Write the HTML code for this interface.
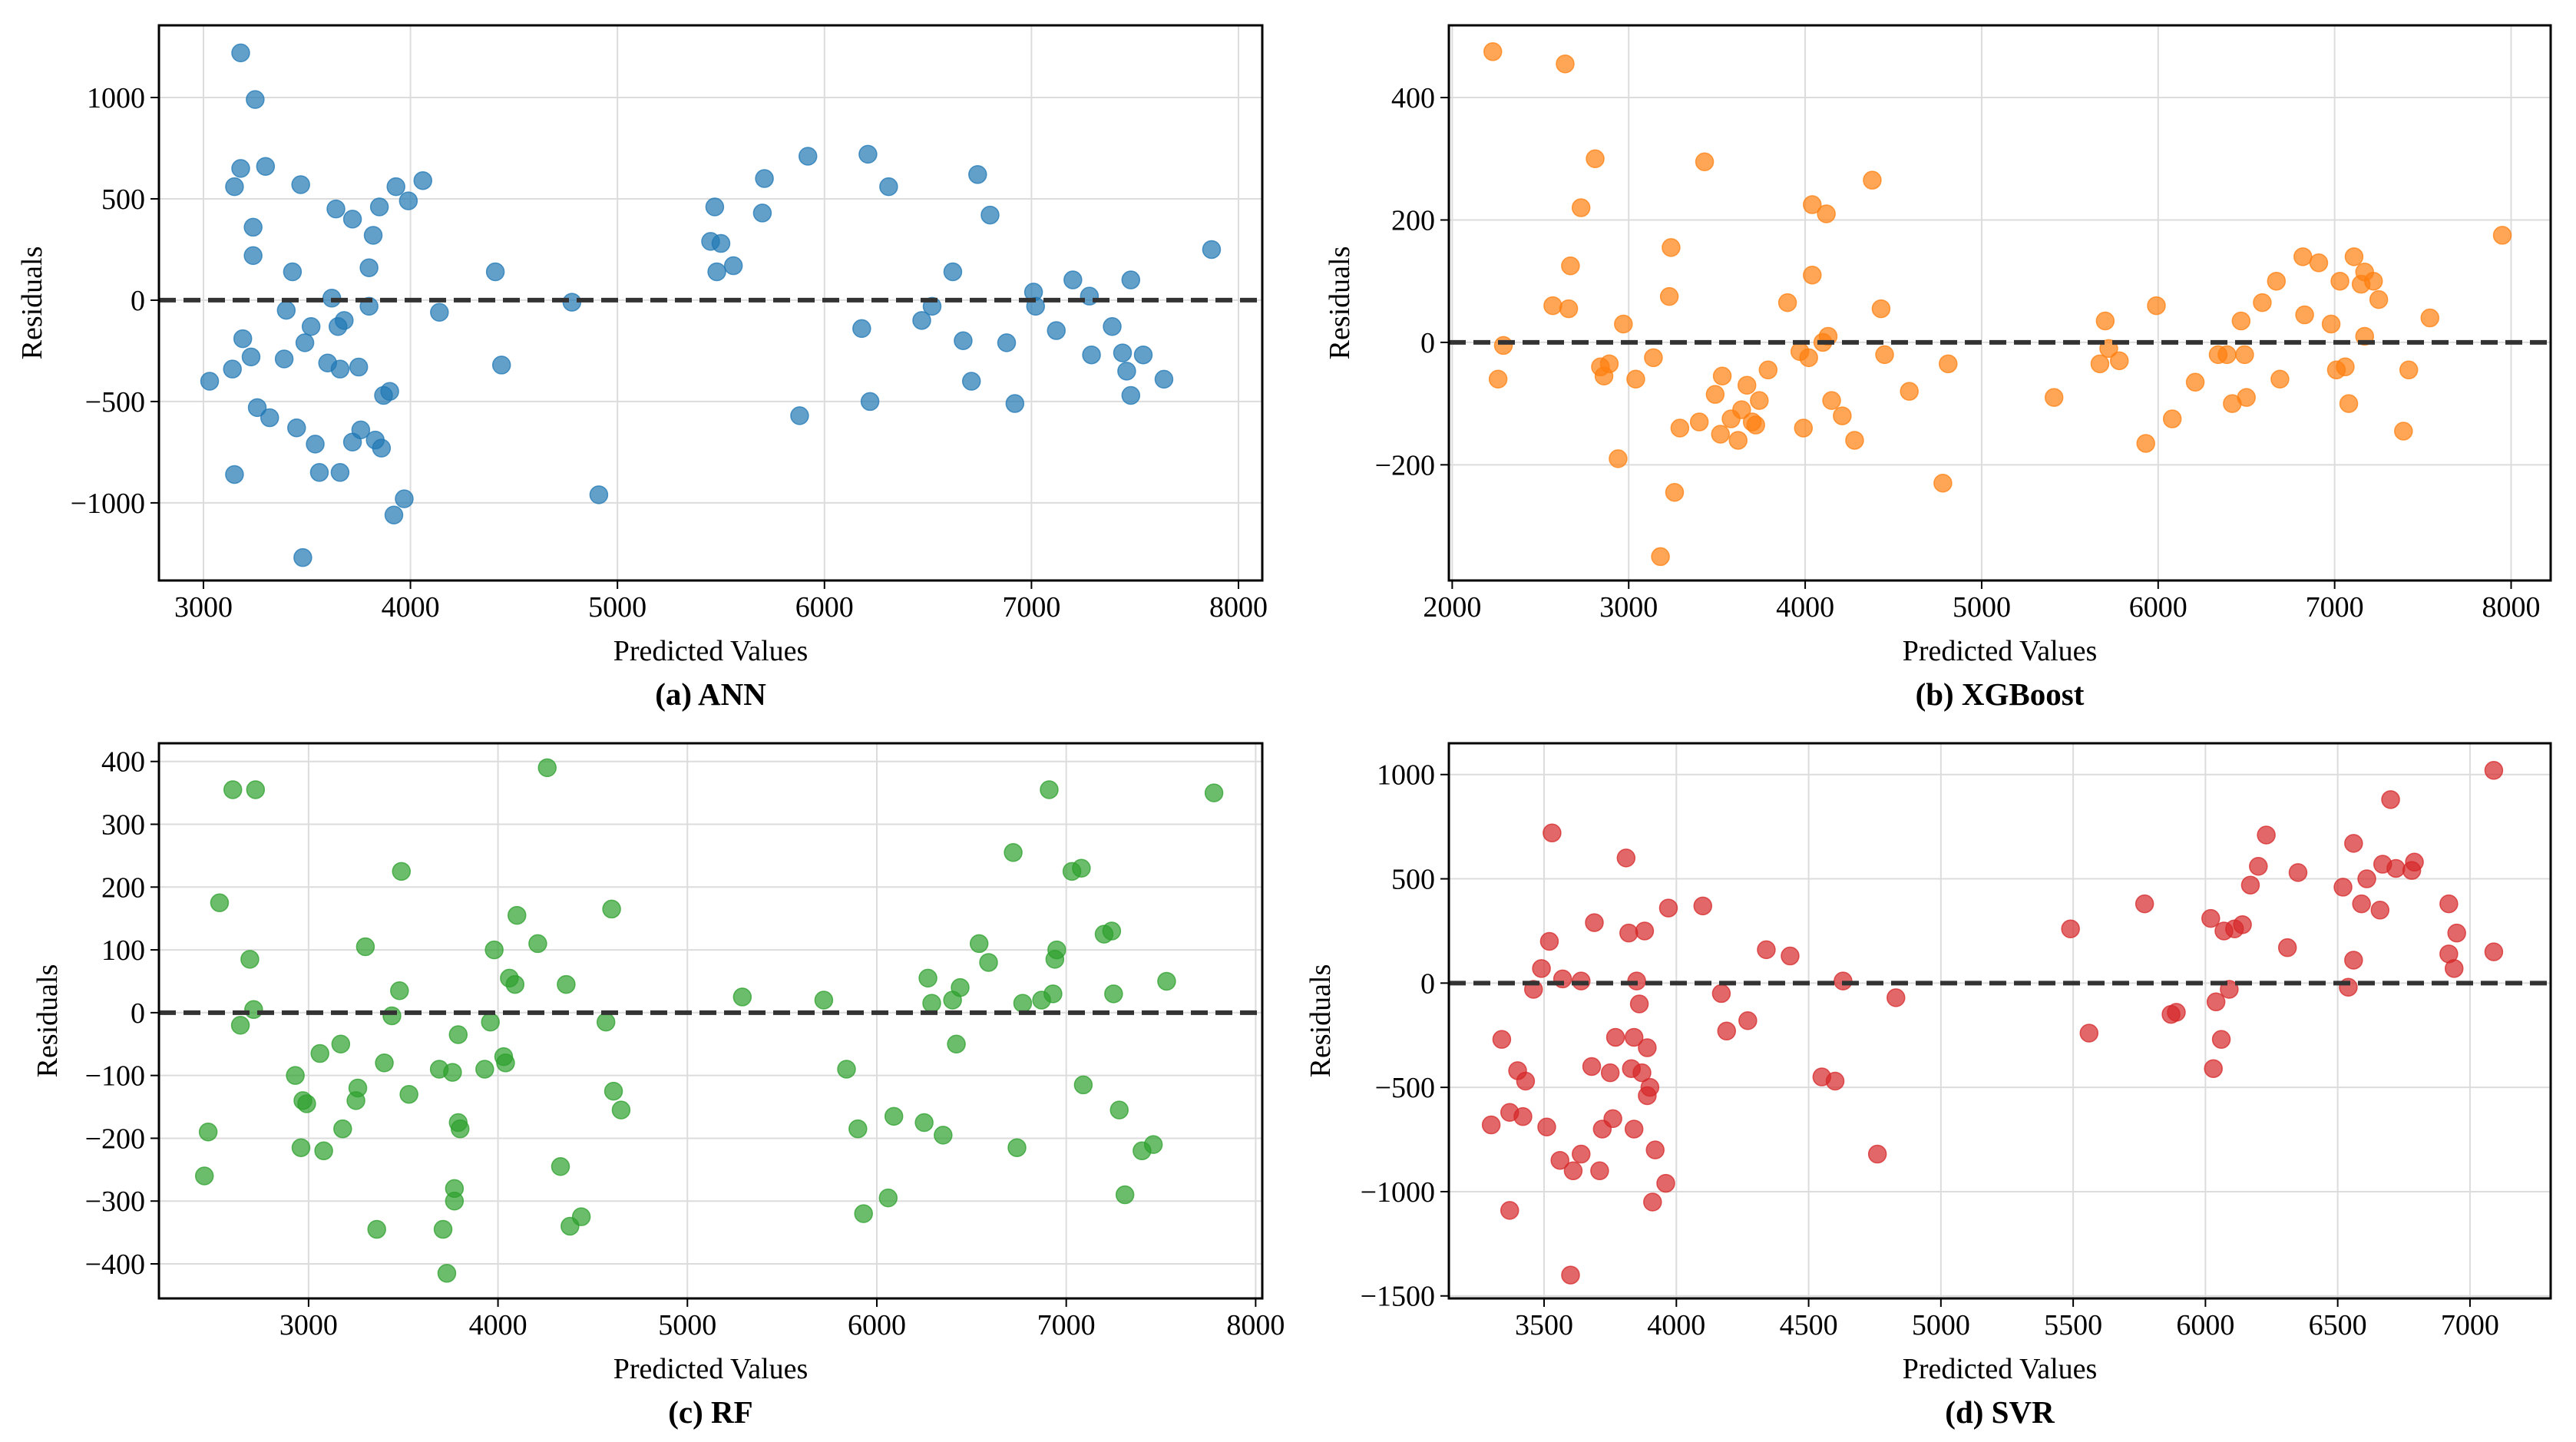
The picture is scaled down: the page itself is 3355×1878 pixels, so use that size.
<!DOCTYPE html>
<html><head><meta charset="utf-8"><style>
body{margin:0;background:#fff;}
svg{display:block;font-family:"Liberation Serif",serif;}
</style></head><body>
<svg id="fig" width="3355" height="1878" viewBox="0 0 3355 1878" xmlns="http://www.w3.org/2000/svg"></svg>
<script>
// ANN
const annX=[3030,3140,3150,3150,3180,3180,3190,3230,3240,3240,3250,3260,3300,3320,3390,3400,3430,3450,3470,3480,3490,3520,3540,3560,3600,3620,3640,3650,3660,3660,3680,3720,3720,3750,3760,3800,3800,3820,3830,3850,3860,3870,3900,3920,3930,3970,3990,4060,4140,4410,4440,4780,4910,5450,5470,5480,5500,5560,5700,5710,5880,5920,6180,6210,6220,6310,6470,6520,6620,6670,6710,6740,6800,6880,6920,7010,7020,7120,7200,7280,7290,7390,7440,7460,7480,7480,7540,7640,7870];
const annY=[-400,-340,-860,560,1220,650,-190,-280,360,220,990,-530,660,-580,-290,-50,140,-630,570,-1270,-210,-130,-710,-850,-310,10,450,-130,-850,-340,-100,400,-700,-330,-640,-30,160,320,-690,460,-730,-470,-450,-1060,560,-980,490,590,-60,140,-320,-10,-960,290,460,140,280,170,430,600,-570,710,-140,720,-500,560,-100,-30,140,-200,-400,620,420,-210,-510,40,-30,-150,100,20,-270,-130,-260,-350,100,-470,-270,-390,250];
// XGBoost
const xgbX=[2230,2260,2290,2570,2640,2660,2670,2730,2810,2840,2860,2890,2940,2970,3040,3140,3230,3240,3260,3290,3180,3400,3430,3490,3520,3530,3580,3620,3640,3670,3700,3720,3740,3790,3900,3970,3990,4020,4040,4040,4100,4120,4130,4150,4210,4280,4380,4430,4450,4590,4780,4810,5410,5670,5700,5720,5780,5930,5990,6080,6210,6340,6390,6420,6470,6490,6500,6590,6670,6690,6820,6830,6910,6980,7010,7030,7060,7080,7110,7150,7170,7170,7220,7250,7390,7420,7540,7950];
const xgbY=[475,-60,-5,60,455,55,125,220,300,-40,-55,-35,-190,30,-60,-25,75,155,-245,-140,-350,-130,295,-85,-150,-55,-125,-160,-110,-70,-130,-135,-95,-45,65,-15,-140,-25,225,110,0,210,10,-95,-120,-160,265,55,-20,-80,-230,-35,-90,-35,35,-10,-30,-165,60,-125,-65,-20,-20,-100,35,-20,-90,65,100,-60,140,45,130,30,-45,100,-40,-100,140,95,10,115,100,70,-145,-45,40,175];
// RF
const rfX=[2450,2470,2530,2600,2640,2690,2710,2720,2930,2960,2970,2990,3060,3080,3170,3180,3250,3260,3300,3360,3400,3440,3480,3490,3530,3690,3710,3730,3760,3770,3770,3790,3790,3800,3930,3960,3980,4030,4040,4060,4090,4100,4210,4260,4330,4360,4380,4440,4570,4600,4610,4650,5290,5720,5840,5900,5930,6060,6090,6250,6270,6290,6350,6400,6420,6440,6540,6590,6720,6740,6770,6870,6910,6930,6940,6950,7030,7080,7090,7200,7240,7250,7280,7310,7400,7460,7530,7780];
const rfY=[-260,-190,175,355,-20,85,5,355,-100,-215,-140,-145,-65,-220,-50,-185,-140,-120,105,-345,-80,-5,35,225,-130,-90,-345,-415,-95,-280,-300,-175,-35,-185,-90,-15,100,-70,-80,55,45,155,110,390,-245,45,-340,-325,-15,165,-125,-155,25,20,-90,-185,-320,-295,-165,-175,55,15,-195,20,-50,40,110,80,255,-215,15,20,355,30,85,100,225,230,-115,125,130,30,-155,-290,-220,-210,50,350];
// SVR
const svrX=[3300,3340,3370,3370,3400,3420,3430,3460,3490,3510,3520,3530,3560,3570,3600,3610,3640,3640,3680,3690,3710,3720,3750,3760,3770,3810,3820,3830,3840,3840,3850,3860,3870,3880,3890,3890,3900,3910,3920,3960,3970,4100,4170,4190,4270,4340,4430,4550,4600,4630,4760,4830,5490,5560,5770,5870,5890,6020,6030,6040,6060,6070,6090,6110,6140,6170,6200,6230,6310,6350,6520,6540,6560,6560,6590,6610,6660,6670,6700,6720,6780,6790,6920,6920,6940,6950,7090,7090];
const svrY=[-680,-270,-1090,-620,-420,-640,-470,-30,70,-690,200,720,-850,20,-1400,-900,-820,10,-400,290,-900,-700,-430,-650,-260,600,240,-410,-260,-700,10,-100,-430,250,-310,-540,-500,-1050,-800,-960,360,370,-50,-230,-180,160,130,-450,-470,10,-820,-70,260,-240,380,-150,-140,310,-410,-90,-270,250,-30,260,280,470,560,710,170,530,460,-20,110,670,380,500,350,570,880,550,540,580,140,380,70,240,1020,150];

const annXTicks=[3000,4000,5000,6000,7000,8000];
const annYTicks=[-1000,-500,0,500,1000];
const xgbXTicks=[2000,3000,4000,5000,6000,7000,8000];
const xgbYTicks=[-200,0,200,400];
const rfXTicks=[3000,4000,5000,6000,7000,8000];
const rfYTicks=[-400,-300,-200,-100,0,100,200,300,400];
const svrXTicks=[3500,4000,4500,5000,5500,6000,6500,7000];
const svrYTicks=[-1500,-1000,-500,0,500,1000];

const NS="http://www.w3.org/2000/svg";
const fig=document.getElementById('fig');
function mk(tag,attrs,parent){const e=document.createElementNS(NS,tag);for(const k in attrs)e.setAttribute(k,attrs[k]);(parent||fig).appendChild(e);return e;}

function panel(cfg){
  const g=mk('g',{});
  
  
  const {L,R,T,B,xmin,xmax,ymin,ymax}=cfg;
  const sx=v=>L+(v-xmin)/(xmax-xmin)*(R-L);
  const sy=v=>B-(v-ymin)/(ymax-ymin)*(B-T);
  cfg.xt.forEach(t=>{
    const gl=mk('line',{x1:sx(t),x2:sx(t),y1:T,y2:B,stroke:'#dcdcdc','stroke-width':2},g);
    
    
    mk('line',{x1:sx(t),x2:sx(t),y1:B,y2:B+11,stroke:'#000','stroke-width':2},g);
    const tx=mk('text',{x:sx(t),y:B+47,'font-size':38,'text-anchor':'middle',fill:'#000'},g);
    tx.textContent=t;
    
    
  });
  cfg.yt.forEach(t=>{
    const gl=mk('line',{x1:L,x2:R,y1:sy(t),y2:sy(t),stroke:'#dcdcdc','stroke-width':2},g);
    
    
    mk('line',{x1:L-11,x2:L,y1:sy(t),y2:sy(t),stroke:'#000','stroke-width':2},g);
    const tx=mk('text',{x:L-18,y:sy(t)+13,'font-size':38,'text-anchor':'end',fill:'#000'},g);
    tx.textContent=t<0?'\u2212'+(-t):String(t);
    
    
  });
  cfg.xs.forEach((x,i)=>{
    const c=mk('circle',{cx:sx(x),cy:sy(cfg.ys[i]),r:11.5,fill:cfg.color,'fill-opacity':0.7,stroke:cfg.color,'stroke-opacity':0.75,'stroke-width':1.5},g);
    
    
  });
  const z=mk('line',{x1:L,x2:R,y1:sy(0),y2:sy(0),stroke:'#333','stroke-width':6,'stroke-dasharray':'22 10'},g);
  
  
  const fr=mk('rect',{x:L,y:T,width:R-L,height:B-T,fill:'none',stroke:'#000','stroke-width':3},g);
  
  
  const xl=mk('text',{x:(L+R)/2,y:B+104,'font-size':38,'text-anchor':'middle'},g);
  xl.textContent='Predicted Values';
  
  
  const yl=mk('text',{x:0,y:0,'font-size':38,'text-anchor':'middle',transform:`translate(${cfg.ylx},${(T+B)/2}) rotate(-90)`},g);
  yl.textContent='Residuals';
  
  
  const ti=mk('text',{x:(L+R)/2,y:B+162,'font-size':41,'font-weight':'bold','text-anchor':'middle'},g);
  ti.textContent=cfg.title;
  
  
}
panel({name:'ann',L:207,R:1644,T:33,B:756,xmin:2785,xmax:8115,ymin:-1383,ymax:1356,xt:annXTicks,yt:annYTicks,xs:annX,ys:annY,color:'#1f77b4',title:'(a) ANN',ylx:54});
panel({name:'xgboost',L:1887,R:3322,T:33,B:756,xmin:1981,xmax:8224,ymin:-389,ymax:518,xt:xgbXTicks,yt:xgbYTicks,xs:xgbX,ys:xgbY,color:'#ff7f0e',title:'(b) XGBoost',ylx:1757});
panel({name:'rf',L:207,R:1644,T:968,B:1691,xmin:2210,xmax:8035,ymin:-455,ymax:429,xt:rfXTicks,yt:rfYTicks,xs:rfX,ys:rfY,color:'#2ca02c',title:'(c) RF',ylx:74});
panel({name:'svr',L:1887,R:3322,T:968,B:1691,xmin:3140,xmax:7305,ymin:-1512,ymax:1150,xt:svrXTicks,yt:svrYTicks,xs:svrX,ys:svrY,color:'#d62728',title:'(d) SVR',ylx:1732});
</script>
</body></html>
